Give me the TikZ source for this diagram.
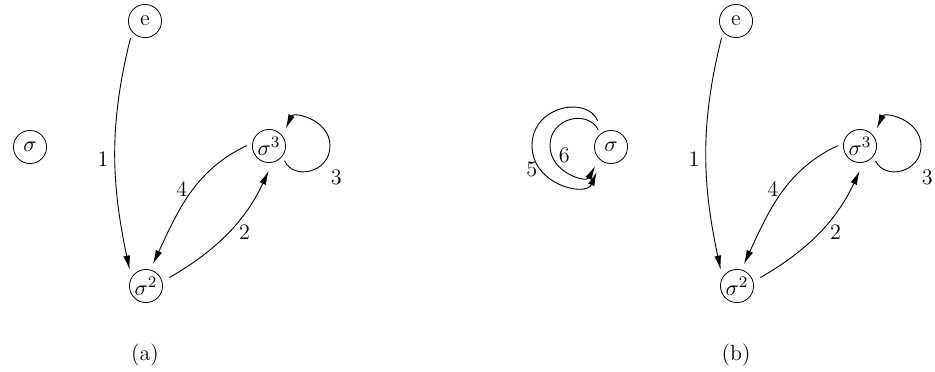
\documentclass[tikz,border=0pt]{standalone}
\usetikzlibrary{arrows.meta}

\begin{document}
\begin{tikzpicture}[
    x=0.0175cm,
    y=0.0175cm,
    >={Latex[length=7pt,width=3.4pt]},
    font=\fontsize{11}{13}\selectfont,
    element/.style={
        circle,
        draw,
        minimum size=16.5pt,
        inner sep=0pt
    },
    caption/.style={
        font=\fontsize{11}{13}\selectfont
    },
    move/.style={
        ->,
        line width=0.45pt,
        shorten >=3pt,
        shorten <=3pt
    }
]

\useasboundingbox (0,0) rectangle (935,-371);

% Horizontal positions
\def\AX{0}
\def\BX{591}

% ==================================================
% Panel (a)
% ==================================================

\node[element] (sa) at (30,-147) {$\sigma$};
\node[element] (ea) at (\AX+145,-21) {e};
\node[element] (s2a) at (\AX+146,-286) {$\sigma^2$};
\node[element] (s3a) at (\AX+269,-146) {$\sigma^3$};

\node[caption] (capa) at (\AX+145,-355) {(a)};

\draw[move, shorten <=3pt, shorten >=4pt]
    (ea.-140) to[out=-104, in=102]
    node[left, pos=0.52] {1}
    (s2a.150);

\draw[move, shorten <=4pt, shorten >=4.5pt]
    (s2a.15) to[out=30, in=-115]
    node[right=2pt, pos=0.5] {2}
    (s3a.-78);

% loop of sigma^3 round its right side
\draw[move, shorten <=2.5pt, shorten >=4pt]
    (s3a.-37) to[out=-66, in=-90, looseness=1.41]
    node[below right, pos=0.74] {3}
    ([shift={(61,0)}]s3a.center) to[out=90, in=66, looseness=1.41]
    (s3a.37);

\draw[move]
    (s3a.170) to[out=205, in=65]
    node[left, pos=0.45] {4}
    (s2a.75);

% ==================================================
% Middle: the two turns of sigma
% ==================================================

\node[element] (m) at (611,-147) {$\sigma$};

\draw[move, shorten <=6.2pt, shorten >=5.9pt]
    (m.120) to[out=112.6, in=90, looseness=1.42]
    ([shift={(-79,1.5)}]m.center) to[out=-90, in=-112.6, looseness=1.42]
    node[left, pos=0.25, inner sep=1.5pt] {5}
    (m.-125);

\draw[move, shorten <=2.2pt, shorten >=4pt]
    (m.129) to[out=117.4, in=90, looseness=1.38]
    ([shift={(-61,1.5)}]m.center) to[out=-90, in=-117.4, looseness=1.38]
    node[right, pos=0.13] {6}
    (m.-136);

% ==================================================
% Panel (b)
% ==================================================

\node[element] (eb) at (\BX+145,-21) {e};
\node[element] (s2b) at (\BX+146,-286) {$\sigma^2$};
\node[element] (s3b) at (\BX+269,-146) {$\sigma^3$};

\node[caption] (capb) at (\BX+145,-355) {(b)};

\draw[move, shorten <=3pt, shorten >=4pt]
    (eb.-140) to[out=-104, in=102]
    node[left, pos=0.52] {1}
    (s2b.150);

\draw[move, shorten <=4pt, shorten >=4.5pt]
    (s2b.15) to[out=30, in=-115]
    node[right=2pt, pos=0.5] {2}
    (s3b.-78);

% loop of sigma^3 round its right side
\draw[move, shorten <=2.5pt, shorten >=4pt]
    (s3b.-37) to[out=-66, in=-90, looseness=1.41]
    node[below right, pos=0.74] {3}
    ([shift={(61,0)}]s3b.center) to[out=90, in=66, looseness=1.41]
    (s3b.37);

\draw[move]
    (s3b.170) to[out=205, in=65]
    node[left, pos=0.45] {4}
    (s2b.75);

\end{tikzpicture}
\end{document}
